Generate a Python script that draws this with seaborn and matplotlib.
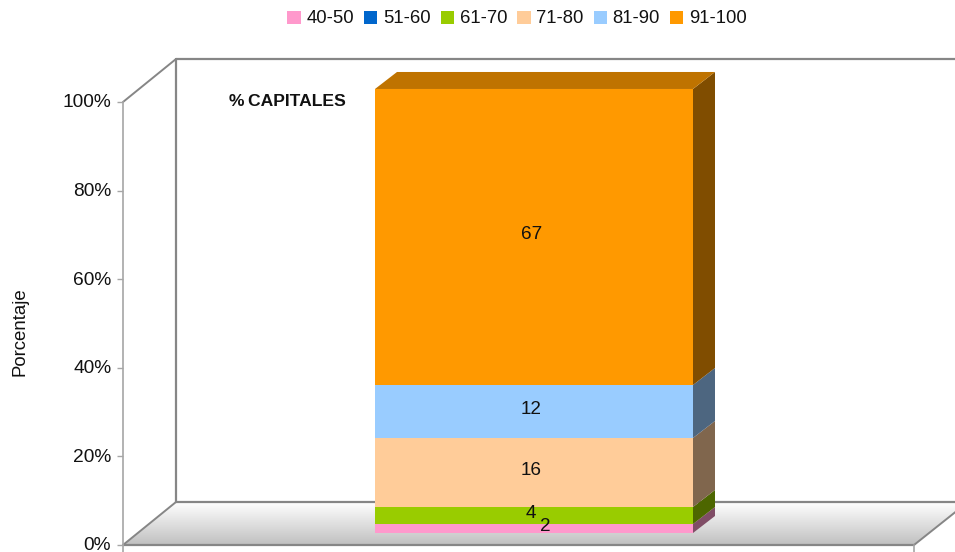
import numpy as np
import matplotlib
matplotlib.use('Agg')
import matplotlib.pyplot as plt
import seaborn as sns
from matplotlib.colors import to_rgb
from matplotlib.patches import Patch, Polygon
from matplotlib.transforms import ScaledTranslation

rangos = ['40-50', '51-60', '61-70', '71-80', '81-90', '91-100']
porcentajes = [2.03, 0, 3.84, 15.58, 11.96, 66.82]
colores = ['#FF99CC', '#0066CC', '#99CC00', '#FFCC99', '#99CCFF', '#FF9900']
categoria = ['% CAPITALES']
ticks_y = [0, 20, 40, 60, 80, 100]

W, H = 955, 552
GRIS = '#868686'
GRIS_EJE = '#A6A6A6'
PX_UNIDAD = 4.43

sns.set_theme(style='white')
plt.rcParams['font.family'] = ['Liberation Sans', 'DejaVu Sans']

fig = plt.figure(figsize=(W / 100, H / 100), dpi=100)

# Fondo en pixeles: paredes y piso de la caja 3D
bg = fig.add_axes([0, 0, 1, 1], zorder=0)
bg.set_xlim(0, W)
bg.set_ylim(H, 0)
bg.axis('off')

piso = Polygon([(123, 545), (176, 502), (968, 502), (914, 545)], transform=bg.transData,
               facecolor='none', edgecolor='none')
bg.add_patch(piso)
grad = np.linspace(1, 0.75, 64).reshape(-1, 1)
img = bg.imshow(grad, cmap='gray', vmin=0, vmax=1, extent=(123, 968, 545, 502), aspect='auto')
img.set_clip_path(piso)
bg.set_xlim(0, W)
bg.set_ylim(H, 0)

bg.plot([123, 176], [102, 59], color=GRIS, lw=1.4)
bg.plot([176, 955], [59, 59], color=GRIS, lw=1.6)
bg.plot([176, 176], [59, 502], color=GRIS, lw=1.6)
bg.plot([176, 955], [502, 502], color=GRIS, lw=1.6)
bg.plot([123, 176], [545, 502], color=GRIS, lw=1.4)
bg.plot([914, 968], [545, 502], color=GRIS, lw=1.4)
bg.plot([123, 914], [545, 545], color=GRIS, lw=1.6)

# Ejes principales: 0-100 % entre y=545 y y=102
ax = fig.add_axes([123 / W, (H - 545) / H, 791 / W, 443 / H], zorder=1)
ax.patch.set_alpha(0)

acum = 12 / PX_UNIDAD  # la barra arranca dentro del piso
for valor, color in zip(porcentajes, colores):
    sns.barplot(x=categoria, y=[valor], bottom=acum, color=color, saturation=1,
                width=318 / 791, ax=ax, linewidth=0, clip_on=False)
    acum += valor

ax.set_xlim(-(534 - 123) / 791, (914 - 534) / 791)
ax.set_ylim(0, 100)

# Caras laterales y tapa de cada segmento
prof_x = 22 / 791
prof_y = 17 / PX_UNIDAD
barras = [b for b in ax.patches if b.get_height() > 0]
colores_vis = [c for c, v in zip(colores, porcentajes) if v > 0]
for b, color in zip(barras, colores_vis):
    x1 = b.get_x() + b.get_width()
    y0, y1 = b.get_y(), b.get_y() + b.get_height()
    lado = tuple(0.5 * c for c in to_rgb(color))
    ax.fill([x1, x1 + prof_x, x1 + prof_x, x1], [y0, y0 + prof_y, y1 + prof_y, y1],
            color=lado, lw=0, clip_on=False)
tope = barras[-1]
x0 = tope.get_x()
x1 = x0 + tope.get_width()
y1 = tope.get_y() + tope.get_height()
ax.fill([x0, x1, x1 + prof_x, x0 + prof_x], [y1, y1, y1 + prof_y, y1 + prof_y],
        color=tuple(0.75 * c for c in to_rgb(colores_vis[-1])), lw=0, clip_on=False)

# Etiquetas de datos (el 2 va corrido a la derecha, como en el original)
desplaza = [8, -2, -2, -2, -2]
for b, v, dx in zip(barras, [v for v in porcentajes if v > 0], desplaza):
    ax.annotate(f'{v:.0f}', (b.get_x() + b.get_width() / 2, b.get_y() + b.get_height() / 2),
                xytext=(dx, 1.5), textcoords='offset points',
                ha='center', va='center', fontsize=13.6, color='#111111')

ax.set_yticks(ticks_y)
ax.set_yticklabels([f'{t}%' for t in ticks_y], fontsize=13.8, color='#111111')
ax.set_xticks([])
ax.tick_params(axis='y', left=True, length=4.5, width=1, color=GRIS_EJE, pad=4)
sube = ScaledTranslation(0, 1 / 100, fig.dpi_scale_trans)
for t in ax.get_yticklabels():
    t.set_transform(t.get_transform() + sube)
sns.despine(ax=ax, top=True, right=True, bottom=True)
ax.spines['left'].set_color(GRIS_EJE)
ax.spines['left'].set_linewidth(1.2)
ax.set_xlabel('')
ax.set_ylabel('Porcentaje', fontsize=13.4, color='#111111')
ax.yaxis.set_label_coords((28 - 123) / 791, (545 - 332) / 443)

# Marcas inferiores del eje x
bg.plot([123, 123], [545, 552], color=GRIS_EJE, lw=1.2, zorder=5)
bg.plot([914, 914], [545, 552], color=GRIS_EJE, lw=1.2, zorder=5)

fig.text(287.5 / W, 1 - 101.5 / H, '%\u2009CAPITALES', fontsize=12.6, fontweight='bold', ha='center',
         va='center', color='#111111')

handles = [Patch(facecolor=c, edgecolor='none', label=r) for c, r in zip(colores, rangos)]
ley = fig.legend(handles=handles, ncol=6, loc='center', bbox_to_anchor=(517 / W, 1 - 18 / H), frameon=False,
                 fontsize=13.3, handlelength=0.72, handleheight=0.72, handletextpad=0.3,
                 columnspacing=0.55, labelcolor='#111111', borderpad=0)
for p in ley.get_patches():
    p.set_y(p.get_y() - 1)

fig.savefig('out.png', dpi=100)
